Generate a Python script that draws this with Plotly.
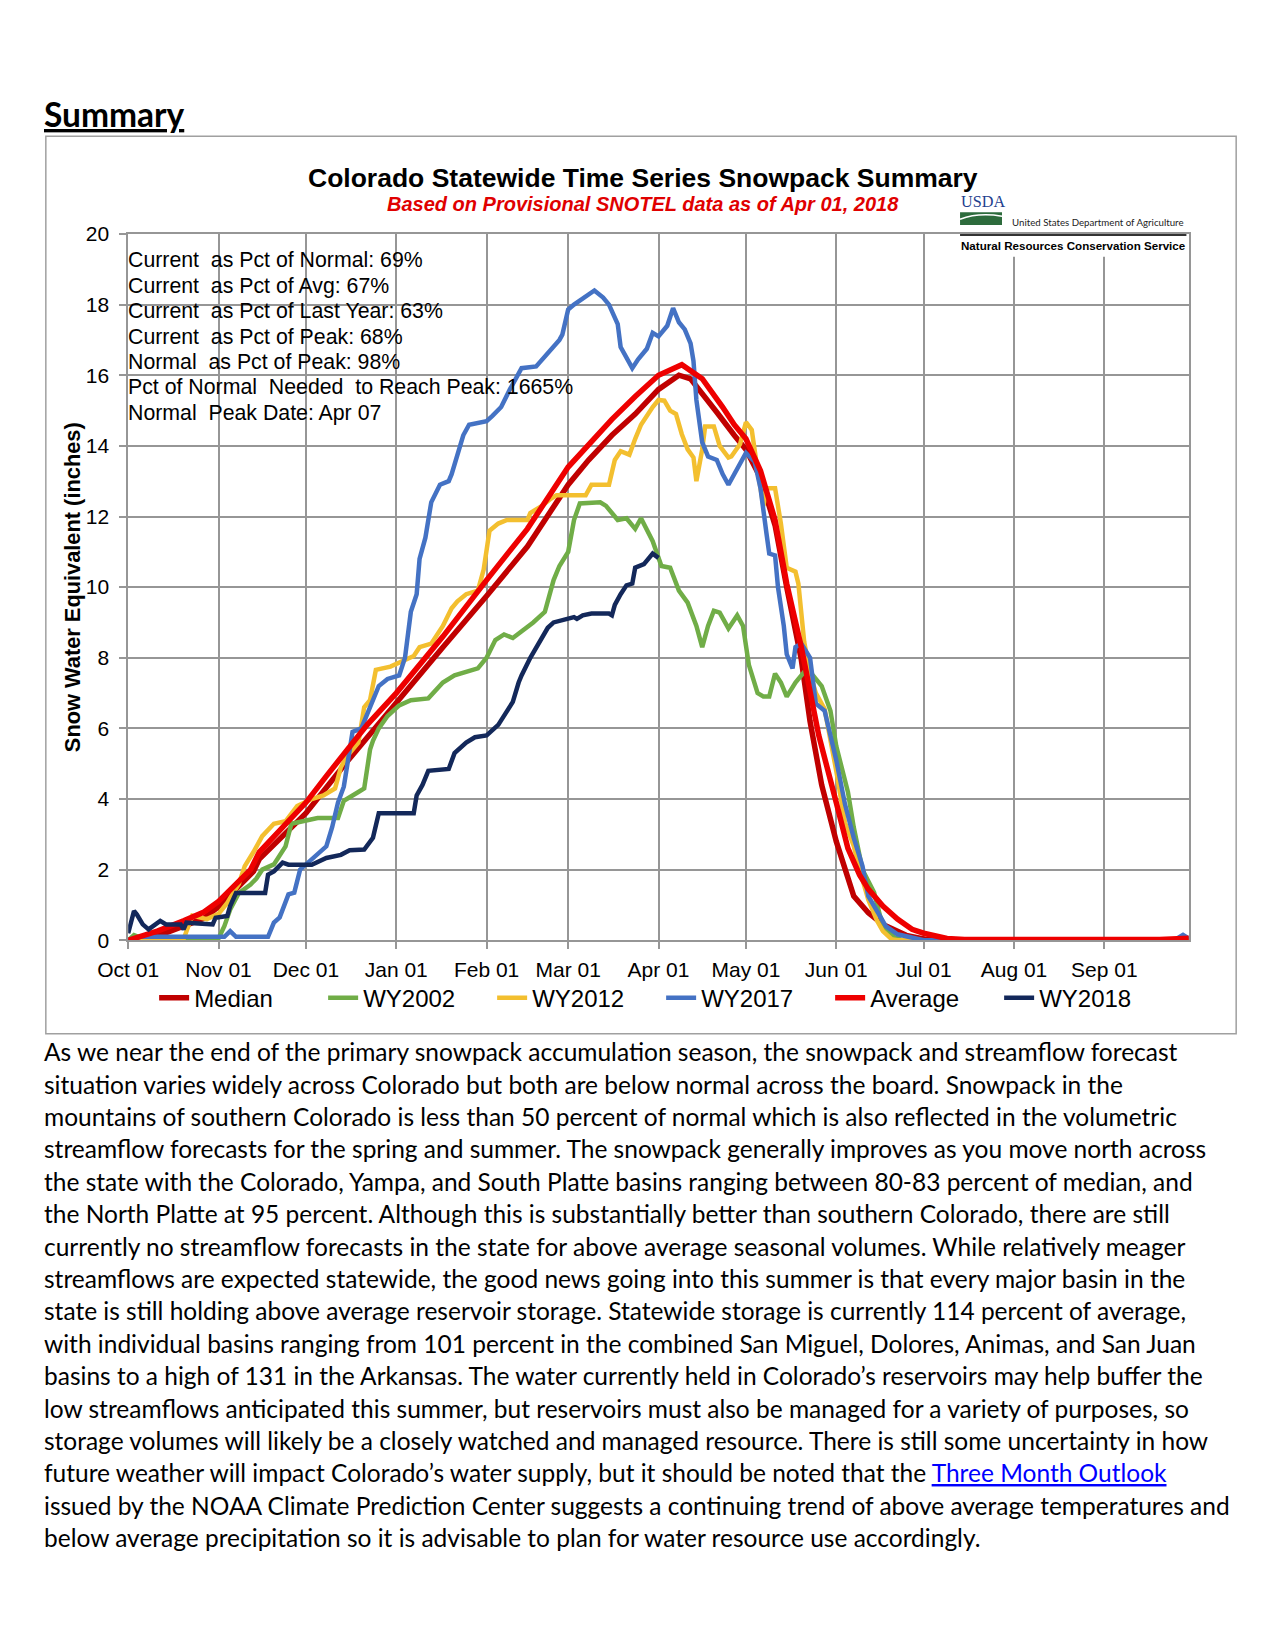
import plotly.graph_objects as go

W, H = 1275, 1650


def px(x):
    return x / W


def py(y):
    return 1 - y / H


def wy(md_list):
    out = []
    for md in md_list:
        m = int(md.split("-")[0])
        out.append(("2017-" if m >= 10 else "2018-") + md)
    return out


# ---------------- data (water year Oct 2017 - Sep 2018) ----------------
series_names = ["Median", "WY2002", "WY2012", "WY2017", "Average", "WY2018"]

median_dates = ["10-01", "10-11", "10-20", "10-27", "11-01", "11-06", "11-13", "11-15", "12-01", "12-15",
                "01-01", "01-17", "02-01", "02-15", "03-01", "03-08", "03-16", "03-24", "04-01", "04-08",
                "04-12", "04-16", "04-21", "04-27", "05-01", "05-06", "05-11", "05-15", "05-20", "05-23",
                "05-27", "06-01", "06-03", "06-07", "06-12", "06-17", "06-25", "07-01", "07-10", "09-30"]
median_vals = [0.0, 0.12, 0.4, 0.62, 0.95, 1.35, 1.95, 2.3, 3.6, 5.05,
               6.75, 8.3, 9.75, 11.15, 12.9, 13.6, 14.3, 14.9, 15.6, 16.0,
               15.9, 15.5, 14.95, 14.3, 13.9, 13.1, 11.75, 10.0, 7.95, 6.2,
               4.4, 2.8, 2.3, 1.25, 0.78, 0.45, 0.14, 0.04, 0.0, 0.0]

wy2002_dates = ["10-01", "10-03", "10-06", "11-01", "11-03", "11-05", "11-08", "11-12", "11-14", "11-16",
                "11-20", "11-24", "11-26", "12-05", "12-12", "12-14", "12-19", "12-21", "12-23", "12-24",
                "12-26", "12-29", "01-02", "01-06", "01-12", "01-17", "01-21", "01-29", "02-01", "02-04",
                "02-07", "02-10", "02-17", "02-21", "02-24", "02-26", "03-01", "03-03", "03-05", "03-12",
                "03-14", "03-18", "03-21", "03-24", "03-26", "03-30", "04-02", "04-05", "04-08", "04-11",
                "04-14", "04-16", "04-18", "04-20", "04-22", "04-25", "04-28", "04-30", "05-02", "05-05",
                "05-07", "05-09", "05-11", "05-13", "05-15", "05-18", "05-21", "05-24", "05-27", "05-30",
                "06-01", "06-05", "06-07", "06-10", "06-14", "06-16", "06-18", "06-21", "06-24", "09-30"]
wy2002_vals = [0.0, 0.15, 0.05, 0.05, 0.4, 0.87, 1.34, 1.58, 1.75, 2.0,
               2.15, 2.66, 3.3, 3.46, 3.46, 3.95, 4.2, 4.3, 5.4, 5.65,
               6.0, 6.35, 6.65, 6.8, 6.85, 7.3, 7.5, 7.7, 8.0, 8.5,
               8.66, 8.56, 9.0, 9.3, 10.2, 10.6, 11.0, 11.9, 12.37, 12.4,
               12.3, 11.9, 11.95, 11.65, 11.95, 11.3, 10.6, 10.55, 9.9, 9.56,
               8.9, 8.3, 8.9, 9.33, 9.28, 8.83, 9.2, 8.9, 7.8, 7.0,
               6.9, 6.9, 7.55, 7.3, 6.9, 7.3, 7.6, 7.5, 7.2, 6.5,
               5.5, 4.2, 3.2, 2.0, 1.35, 0.7, 0.3, 0.08, 0.0, 0.0]

wy2012_dates = ["10-01", "10-20", "10-23", "10-28", "11-01", "11-04", "11-08", "11-10", "11-13", "11-16",
                "11-20", "11-24", "11-28", "12-03", "12-07", "12-11", "12-13", "12-15", "12-19", "12-21",
                "12-23", "12-25", "12-30", "01-03", "01-07", "01-09", "01-13", "01-17", "01-20", "01-22",
                "01-25", "01-29", "01-31", "02-02", "02-05", "02-08", "02-15", "02-16", "02-20", "02-23",
                "02-25", "03-07", "03-09", "03-15", "03-17", "03-19", "03-22", "03-24", "03-26", "03-30",
                "04-01", "04-03", "04-05", "04-07", "04-09", "04-11", "04-13", "04-14", "04-16", "04-17",
                "04-20", "04-22", "04-25", "04-26", "04-29", "05-01", "05-03", "05-05", "05-07", "05-08",
                "05-11", "05-13", "05-15", "05-18", "05-19", "05-21", "05-23", "05-25", "05-28", "06-01",
                "06-04", "06-07", "06-09", "06-12", "06-15", "06-17", "06-20", "06-22", "09-30"]
wy2012_vals = [0.0, 0.03, 0.7, 0.6, 0.75, 1.06, 1.6, 2.1, 2.5, 2.95,
               3.3, 3.37, 3.8, 4.0, 4.1, 4.3, 4.9, 5.2, 5.6, 6.6,
               6.8, 7.66, 7.75, 7.9, 8.05, 8.3, 8.4, 8.9, 9.4, 9.6,
               9.8, 9.9, 10.5, 11.6, 11.8, 11.9, 11.9, 12.1, 12.3, 12.5,
               12.6, 12.6, 12.9, 12.9, 13.6, 13.85, 13.75, 14.2, 14.6, 15.1,
               15.3, 15.28, 15.0, 14.9, 14.33, 13.9, 13.67, 13.0, 13.9, 14.55,
               14.55, 14.0, 13.67, 13.7, 14.05, 14.67, 14.45, 13.3, 12.3, 12.8,
               12.8, 11.8, 10.55, 10.44, 10.1, 8.45, 7.55, 7.0, 6.55, 4.8,
               3.33, 2.67, 2.0, 1.15, 0.55, 0.26, 0.03, 0.0, 0.0]

wy2017_dates = ["10-01", "10-05", "11-03", "11-05", "11-07", "11-18", "11-20", "11-22", "11-25", "11-27",
                "11-29", "12-03", "12-08", "12-10", "12-12", "12-14", "12-16", "12-17", "12-20", "12-24",
                "12-26", "12-29", "01-02", "01-04", "01-06", "01-08", "01-09", "01-11", "01-13", "01-16",
                "01-19", "01-20", "01-22", "01-24", "01-26", "01-29", "02-01", "02-03", "02-06", "02-09",
                "02-13", "02-18", "02-21", "02-26", "02-27", "03-01", "03-03", "03-07", "03-10", "03-13",
                "03-15", "03-18", "03-19", "03-23", "03-25", "03-28", "03-30", "04-01", "04-04", "04-06",
                "04-08", "04-10", "04-12", "04-13", "04-14", "04-16", "04-18", "04-21", "04-23", "04-25",
                "04-27", "05-01", "05-04", "05-06", "05-08", "05-09", "05-11", "05-12", "05-14", "05-15",
                "05-17", "05-18", "05-20", "05-23", "05-25", "05-28", "06-01", "06-04", "06-07", "06-10",
                "06-12", "06-16", "06-18", "06-22", "06-28", "07-01", "09-25", "09-28", "09-30"]
wy2017_vals = [0.0, 0.1, 0.1, 0.26, 0.1, 0.1, 0.5, 0.65, 1.3, 1.35,
               2.0, 2.3, 2.66, 3.2, 3.9, 4.35, 5.3, 5.9, 6.0, 6.8,
               7.2, 7.4, 7.5, 8.0, 9.3, 9.8, 10.8, 11.4, 12.4, 12.9,
               13.0, 13.2, 13.8, 14.3, 14.6, 14.65, 14.7, 14.85, 15.1, 15.6,
               16.2, 16.25, 16.55, 17.0, 17.15, 17.86, 18.0, 18.25, 18.4, 18.2,
               18.0, 17.45, 16.8, 16.2, 16.45, 16.75, 17.2, 17.1, 17.4, 17.9,
               17.5, 17.3, 16.9, 16.4, 15.3, 14.1, 13.7, 13.6, 13.2, 12.9,
               13.2, 13.8, 13.55, 12.8, 11.55, 10.95, 10.9, 10.0, 8.9, 8.1,
               7.7, 8.3, 8.4, 8.0, 6.7, 6.5, 5.1, 3.85, 2.9, 2.1,
               1.25, 0.64, 0.4, 0.17, 0.05, 0.0, 0.0, 0.15, 0.05]

average_dates = ["10-01", "10-11", "10-20", "10-27", "11-01", "11-06", "11-12", "11-15", "11-23", "12-01",
                 "12-08", "12-15", "12-22", "01-01", "01-17", "02-01", "02-15", "03-01", "03-16", "03-24",
                 "04-01", "04-09", "04-16", "04-23", "04-27", "05-01", "05-06", "05-11", "05-15", "05-20",
                 "05-26", "06-01", "06-05", "06-09", "06-12", "06-17", "06-22", "06-27", "07-01", "07-09",
                 "07-15", "09-20", "09-30"]
average_vals = [0.0, 0.26, 0.55, 0.8, 1.1, 1.5, 2.0, 2.5, 3.2, 3.9,
                4.65, 5.35, 6.1, 7.0, 8.6, 10.2, 11.65, 13.4, 14.75, 15.4,
                16.0, 16.3, 15.9, 15.1, 14.6, 14.2, 13.3, 11.9, 10.1, 8.3,
                5.8, 3.9, 2.6, 1.85, 1.45, 0.97, 0.6, 0.31, 0.2, 0.05,
                0.02, 0.02, 0.06]

wy2018_dates = ["10-01", "10-03", "10-04", "10-06", "10-08", "10-10", "10-12", "10-14", "10-19", "10-20",
                "10-21", "10-30", "10-31", "11-04", "11-05", "11-07", "11-17", "11-18", "11-20", "11-23",
                "11-25", "12-03", "12-08", "12-13", "12-16", "12-21", "12-24", "12-26", "01-07", "01-08",
                "01-10", "01-12", "01-19", "01-21", "01-25", "01-28", "02-01", "02-05", "02-07", "02-10",
                "02-12", "02-13", "02-16", "02-18", "02-22", "02-24", "02-28", "03-03", "03-04", "03-06",
                "03-09", "03-15", "03-16", "03-17", "03-19", "03-21", "03-23", "03-24", "03-27", "03-30",
                "04-01"]
wy2018_vals = [0.2, 0.83, 0.73, 0.45, 0.31, 0.45, 0.55, 0.45, 0.45, 0.31,
               0.5, 0.45, 0.64, 0.69, 0.97, 1.34, 1.34, 1.86, 1.95, 2.2,
               2.14, 2.14, 2.33, 2.42, 2.55, 2.57, 2.9, 3.6, 3.6, 4.1,
               4.4, 4.8, 4.85, 5.3, 5.6, 5.75, 5.8, 6.1, 6.36, 6.75,
               7.3, 7.5, 8.0, 8.3, 8.85, 9.0, 9.1, 9.15, 9.1, 9.2,
               9.25, 9.25, 9.2, 9.5, 9.8, 10.05, 10.1, 10.55, 10.65, 10.95,
               10.83]

stats_lines = [
    "Current\u00a0 as Pct of Normal: 69%",
    "Current\u00a0 as Pct of Avg: 67%",
    "Current\u00a0 as Pct of Last Year: 63%",
    "Current\u00a0 as Pct of Peak: 68%",
    "Normal\u00a0 as Pct of Peak: 98%",
    "Pct of Normal\u00a0 Needed\u00a0 to Reach Peak: 1665%",
    "Normal\u00a0 Peak Date: Apr 07",
]

body_lines = [
    "As we near the end of the primary snowpack accumulation season, the snowpack and streamflow forecast",
    "situation varies widely across Colorado but both are below normal across the board. Snowpack in the",
    "mountains of southern Colorado is less than 50 percent of normal which is also reflected in the volumetric",
    "streamflow forecasts for the spring and summer. The snowpack generally improves as you move north across",
    "the state with the Colorado, Yampa, and South Platte basins ranging between 80-83 percent of median, and",
    "the North Platte at 95 percent. Although this is substantially better than southern Colorado, there are still",
    "currently no streamflow forecasts in the state for above average seasonal volumes. While relatively meager",
    "streamflows are expected statewide, the good news going into this summer is that every major basin in the",
    "state is still holding above average reservoir storage. Statewide storage is currently 114 percent of average,",
    "with individual basins ranging from 101 percent in the combined San Miguel, Dolores, Animas, and San Juan",
    "basins to a high of 131 in the Arkansas. The water currently held in Colorado\u2019s reservoirs may help buffer the",
    "low streamflows anticipated this summer, but reservoirs must also be managed for a variety of purposes, so",
    "storage volumes will likely be a closely watched and managed resource. There is still some uncertainty in how",
    "future weather will impact Colorado\u2019s water supply, but it should be noted that the "
    "<span style='color:#0000FF'><u>Three Month Outlook</u></span>",
    "issued by the NOAA Climate Prediction Center suggests a continuing trend of above average temperatures and",
    "below average precipitation so it is advisable to plan for water resource use accordingly.",
]

# ---------------- figure ----------------
series = [
    ("Median", median_dates, median_vals, "#C00000", 5.5),
    ("WY2002", wy2002_dates, wy2002_vals, "#70AD47", 4.5),
    ("WY2012", wy2012_dates, wy2012_vals, "#F3BF2F", 4.5),
    ("WY2017", wy2017_dates, wy2017_vals, "#4472C4", 4.5),
    ("Average", average_dates, average_vals, "#EE0000", 5.5),
    ("WY2018", wy2018_dates, wy2018_vals, "#13285A", 4.5),
]

fig = go.Figure()
for name, d, v, col, lw in series:
    fig.add_trace(go.Scatter(x=wy(d), y=v, name=name, mode="lines",
                             line=dict(color=col, width=lw)))

AX = "Liberation Sans"
plot_l, plot_r, plot_t, plot_b = 91.4, 1178.5, 217, 933.3
grid = "#969696"

fig.update_layout(
    width=W, height=H, margin=dict(l=0, r=0, t=0, b=0),
    paper_bgcolor="white", plot_bgcolor="white",
    font=dict(family=AX, color="black"),
    showlegend=True,
    legend=dict(orientation="h", x=px(118), y=py(992), xanchor="left", yanchor="middle",
                font=dict(family=AX, size=24, color="black"),
                entrywidth=124, entrywidthmode="pixels", bgcolor="rgba(0,0,0,0)",
                itemclick=False),
    xaxis=dict(domain=[px(plot_l), px(plot_r)], type="date",
               range=["2017-10-01", "2018-09-30"],
               tick0="2017-10-01", dtick="M1", tickformat="%b %d",
               showgrid=True, gridcolor=grid, gridwidth=1.5,
               showline=True, linecolor=grid, linewidth=1.5, mirror=True,
               ticks="outside", ticklen=7, tickcolor=grid, tickwidth=1.5,
               tickfont=dict(family=AX, size=21, color="black"),
               ticklabelstandoff=3, zeroline=False, fixedrange=True),
    yaxis=dict(domain=[py(plot_b), py(plot_t)], range=[0, 20], dtick=2,
               showgrid=True, gridcolor=grid, gridwidth=1.5,
               showline=True, linecolor=grid, linewidth=1.5, mirror=True,
               ticks="outside", ticklen=7, tickcolor=grid, tickwidth=1.5,
               tickfont=dict(family=AX, size=21, color="black"),
               ticklabelstandoff=6, zeroline=False, fixedrange=True),
)

shapes = []
# chart frame
shapes.append(dict(type="rect", xref="paper", yref="paper", x0=px(7), x1=px(1227), y0=py(1028), y1=py(118),
                   line=dict(color="#A0A0A0", width=1.5), fillcolor="rgba(0,0,0,0)", layer="below"))
# logo white backing
shapes.append(dict(type="rect", xref="paper", yref="paper", x0=px(940), x1=px(1176), y0=py(240), y1=py(219),
                   line=dict(width=0), fillcolor="white", layer="above"))
# USDA green field
shapes.append(dict(type="rect", xref="paper", yref="paper", x0=px(944), x1=px(987), y0=py(208), y1=py(195),
                   line=dict(width=0), fillcolor="#2D6B3C", layer="above"))
shapes.append(dict(type="path", xref="paper", yref="paper",
                   path=f"M {px(944)},{py(202)} Q {px(963)},{py(195)} {px(987)},{py(199)}",
                   line=dict(color="white", width=1.5), layer="above"))
# logo rule
shapes.append(dict(type="line", xref="paper", yref="paper", x0=px(944), x1=px(1176), y0=py(218), y1=py(218),
                   line=dict(color="#333333", width=2), layer="above"))
fig.update_layout(shapes=shapes)

ann = []
ann.append(dict(text="<b><u>Summary</u></b>", x=px(3.5), y=py(95), xref="paper", yref="paper",
                xanchor="left", yanchor="middle", showarrow=False,
                font=dict(family="Lato", size=33.5, color="black")))
ann.append(dict(text="<b>Colorado Statewide Time Series Snowpack Summary</b>", x=px(619), y=py(160.4),
                xref="paper", yref="paper", xanchor="center", yanchor="middle", showarrow=False,
                font=dict(family=AX, size=26.5, color="black")))
ann.append(dict(text="<b><i>Based on Provisional SNOTEL data as of Apr 01, 2018</i></b>", x=px(619), y=py(187),
                xref="paper", yref="paper", xanchor="center", yanchor="middle", showarrow=False,
                font=dict(family=AX, size=20, color="#E00000")))
ann.append(dict(text="<b>Snow Water Equivalent (inches)</b>", x=px(35), y=py(575), xref="paper", yref="paper",
                xanchor="center", yanchor="middle", textangle=-90, showarrow=False,
                font=dict(family=AX, size=21.8, color="black")))
for i, t in enumerate(stats_lines):
    ann.append(dict(text=t, x=px(89.5), y=py(243.6 + i * 25.8), xref="paper", yref="paper",
                    xanchor="left", yanchor="middle", showarrow=False,
                    font=dict(family=AX, size=21.3, color="black")))
# logo text
ann.append(dict(text="USDA", x=px(943), y=py(185), xref="paper", yref="paper", xanchor="left",
                yanchor="middle", showarrow=False, font=dict(family="Liberation Serif", size=16.2, color="#1F3F8F")))
ann.append(dict(text="United States Department of Agriculture", x=px(995.7), y=py(205), xref="paper",
                yref="paper", xanchor="left", yanchor="middle", showarrow=False,
                font=dict(family="Lato", size=9.7, color="#222222")))
ann.append(dict(text="<b>Natural Resources Conservation Service</b>", x=px(1060), y=py(228.6), xref="paper",
                yref="paper", xanchor="center", yanchor="middle", showarrow=False,
                font=dict(family=AX, size=11.6, color="black")))
for i, t in enumerate(body_lines):
    ann.append(dict(text=t, x=px(3.5), y=py(1046.4 + i * 32.84), xref="paper", yref="paper",
                    xanchor="left", yanchor="middle", showarrow=False,
                    font=dict(family="Lato", size=24.5, color="black")))
fig.update_layout(annotations=ann)

fig.write_html("out.html")
